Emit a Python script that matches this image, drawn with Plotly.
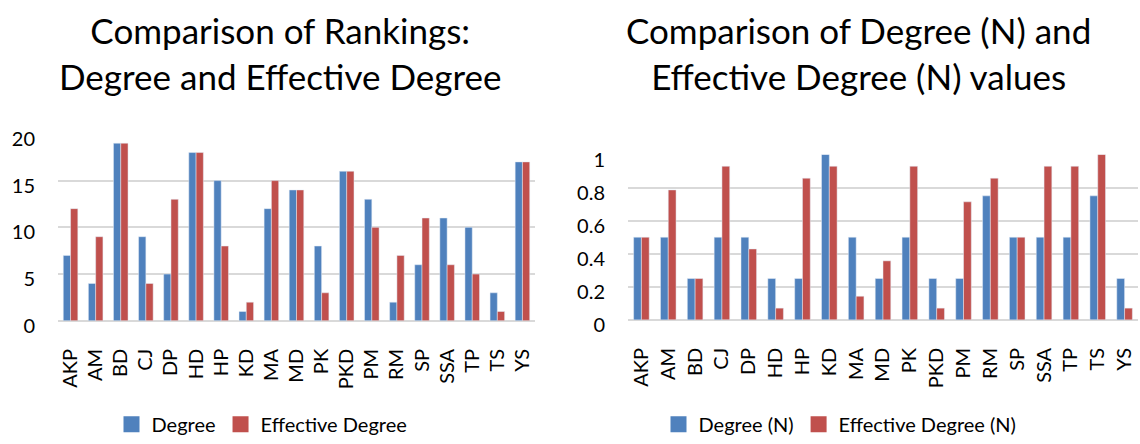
import plotly.graph_objects as go

categories = ["AKP", "AM", "BD", "CJ", "DP", "HD", "HP", "KD", "MA", "MD",
              "PK", "PKD", "PM", "RM", "SP", "SSA", "TP", "TS", "YS"]

degree_rank = [7, 4, 19, 9, 5, 18, 15, 1, 12, 14, 8, 16, 13, 2, 6, 11, 10, 3, 17]
eff_degree_rank = [12, 9, 19, 4, 13, 18, 8, 2, 15, 14, 3, 16, 10, 7, 11, 6, 5, 1, 17]

degree_n = [0.5, 0.5, 0.25, 0.5, 0.5, 0.25, 0.25, 1.0, 0.5, 0.25,
            0.5, 0.25, 0.25, 0.75, 0.5, 0.5, 0.5, 0.75, 0.25]
eff_degree_n = [0.5, 0.786, 0.25, 0.929, 0.429, 0.071, 0.857, 0.929, 0.143, 0.357,
                0.929, 0.071, 0.714, 0.857, 0.5, 0.929, 0.929, 1.0, 0.071]

left_ticks = [0, 5, 10, 15, 20]
right_ticks = [0, 0.2, 0.4, 0.6, 0.8, 1]
right_ticktext = ["0", "0.2", "0.4", "0.6", "0.8", "1"]

BLUE = "#4F81BD"
RED = "#C0504D"
GRID = "#D9D9D9"
FONT = "Lato"

W, H = 1140, 444

fig = go.Figure()
fig.add_trace(go.Bar(x=categories, y=degree_rank, name="Degree", marker_color=BLUE,
                     xaxis="x", yaxis="y", showlegend=False))
fig.add_trace(go.Bar(x=categories, y=eff_degree_rank, name="Effective Degree", marker_color=RED,
                     xaxis="x", yaxis="y", showlegend=False))
fig.add_trace(go.Bar(x=categories, y=degree_n, name="Degree (N)", marker_color=BLUE,
                     xaxis="x2", yaxis="y2", showlegend=False))
fig.add_trace(go.Bar(x=categories, y=eff_degree_n, name="Effective Degree (N)", marker_color=RED,
                     xaxis="x2", yaxis="y2", showlegend=False))

# legend-only entries with larger square swatches
for name, color, xa, ya, lg in [("Degree", BLUE, "x", "y", "legend"),
                                ("Effective Degree", RED, "x", "y", "legend"),
                                ("Degree (N)", BLUE, "x2", "y2", "legend2"),
                                ("Effective Degree (N)", RED, "x2", "y2", "legend2")]:
    fig.add_trace(go.Scatter(x=[None], y=[None], mode="markers", name=name,
                             marker=dict(symbol="square", size=16, color=color),
                             xaxis=xa, yaxis=ya, legend=lg, showlegend=True))

def px_x(a, b):
    return [a / W, b / W]

def px_y(top, bottom):
    return [(H - bottom) / H, (H - top) / H]

axis_common = dict(tickfont=dict(family=FONT, size=20, color="#000000"), automargin=False)

fig.update_layout(
    width=W, height=H,
    margin=dict(l=0, r=0, t=0, b=0),
    paper_bgcolor="white", plot_bgcolor="white",
    barmode="group", bargap=0.42, bargroupgap=0,
    font=dict(family=FONT, color="#000000"),
    xaxis=dict(domain=px_x(58, 535), anchor="y", tickangle=-90, showgrid=False,
               ticklabelstandoff=23, **axis_common),
    yaxis=dict(domain=px_y(136, 326), anchor="x", range=[0, 20], tickvals=left_ticks,
               showgrid=True, gridcolor=GRID, gridwidth=2, zeroline=True, zerolinecolor=GRID,
               zerolinewidth=2, ticklabelstandoff=22, ticklabelshift=5, **axis_common),
    xaxis2=dict(domain=px_x(628, 1138), anchor="y2", tickangle=-90, showgrid=False,
                ticklabelstandoff=23, **axis_common),
    yaxis2=dict(domain=px_y(157, 325), anchor="x2", range=[0, 1], tickvals=right_ticks,
                ticktext=right_ticktext, showgrid=True, gridcolor=GRID, gridwidth=2,
                zeroline=True, zerolinecolor=GRID, zerolinewidth=2, ticklabelstandoff=22,
                ticklabelshift=5, **axis_common),
    legend=dict(orientation="h", x=262 / W, xanchor="center", y=(H - 431) / H, yanchor="middle",
                font=dict(family=FONT, size=20), itemwidth=30),
    legend2=dict(orientation="h", x=840 / W, xanchor="center", y=(H - 431) / H, yanchor="middle",
                 font=dict(family=FONT, size=20), itemwidth=30),
    annotations=[
        dict(text="Comparison of Rankings:<br>Degree and Effective Degree", x=280 / W, y=1 - 7 / H,
             xref="paper", yref="paper", xanchor="center", yanchor="top", showarrow=False,
             font=dict(family=FONT, size=35, color="#000000")),
        dict(text="Comparison of Degree (N) and<br>Effective Degree (N) values", x=858 / W, y=1 - 7 / H,
             xref="paper", yref="paper", xanchor="center", yanchor="top", showarrow=False,
             font=dict(family=FONT, size=35, color="#000000")),
    ],
)

fig.write_html(
    "out.html",
    config={"displayModeBar": False},
    post_script="document.body.style.margin='0px';document.body.style.overflow='hidden';",
)
